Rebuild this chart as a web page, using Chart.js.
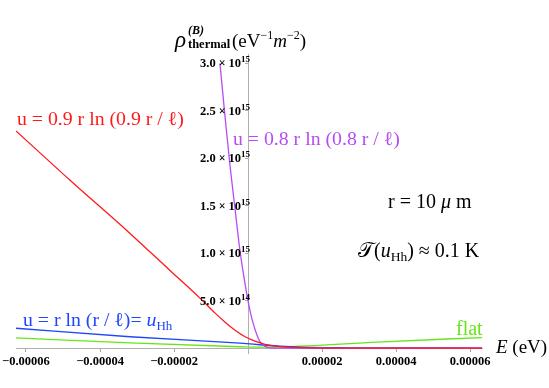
<!DOCTYPE html>
<html><head><meta charset="utf-8">
<script src="https://cdn.jsdelivr.net/npm/chart.js@4/dist/chart.umd.min.js"></script>
<style>html,body{margin:0;padding:0;background:#fff;}#wrap{width:549px;height:388px;position:relative;}</style>
</head><body><div id="wrap"><canvas id="c" width="549" height="388"></canvas></div>
<script>
// ---- tick labels ----
const xTickValues = [-0.00006, -0.00004, -0.00002, 0.00002, 0.00004, 0.00006];
const xTickLabels = ['\u22120.00006', '\u22120.00004', '\u22120.00002', '0.00002', '0.00004', '0.00006'];
const yTickValues = [5e14, 1e15, 1.5e15, 2e15, 2.5e15, 3e15];
const yTickMantissas = ['5.0', '1.0', '1.5', '2.0', '2.5', '3.0'];
const yTickExponents = ['14', '15', '15', '15', '15', '15'];

// ---- series: u = 0.9 r ln(0.9 r / l) (red) ----
const redE   = [-6.27e-5, -4.81e-5, -3.19e-5, -2.11e-5, -1.30e-5, -8.9e-6, -6.2e-6, -3.5e-6, -8e-7, 1.9e-6, 4.6e-6, 8.6e-6, 1.41e-5, 2.49e-5, 6.32e-5];
const redRho = [2.29e15, 1.77e15, 1.21e15, 8.2e14, 5.28e14, 3.7e14, 2.75e14, 1.9e14, 1.21e14, 7.4e13, 4.2e13, 1.8e13, 7e12, 2e12, 1e12];
// ---- series: u = 0.8 r ln(0.8 r / l) (purple) ----
const purpleE   = [-7.6e-6, -6.2e-6, -4.9e-6, -3.5e-6, -2.2e-6, -1.4e-6, -0.3e-6, 0.5e-6, 1.4e-6, 2.4e-6, 3.2e-6, 4.6e-6, 5.9e-6, 1.1e-5, 3.0e-5, 6.32e-5];
const purpleRho = [3.0e15, 2.43e15, 1.93e15, 1.46e15, 1.03e15, 8.2e14, 5.6e14, 4.0e14, 2.6e14, 1.4e14, 7e13, 2e13, 5e12, 1e12, 0, 0];
// ---- series: u = r ln(r / l) = u_Hh (blue) ----
const blueE   = [-6.27e-5, -3.19e-5, -2.2e-6, 3.2e-6, 8.6e-6, 1.4e-5, 2.7e-5, 6.32e-5];
const blueRho = [2.11e14, 1.21e14, 5.3e13, 3.7e13, 2.1e13, 1.06e13, 5e12, 2e12];
// ---- series: flat (green) ----
const greenE   = [-6.27e-5, -3.19e-5, -2.2e-6, 3.8e-6, 1.4e-5, 3.5e-5, 6.32e-5];
const greenRho = [1.09e14, 5.6e13, 1.6e13, 1.1e13, 2.1e13, 6.5e13, 1.13e14];

const pts = (xs, ys) => xs.map((x, i) => ({x: x, y: ys[i]}));

const RED = '#ff1a1a', PURPLE = '#b84cf2', BLUE = '#1f45ff', GREEN = '#66e619';

function ds(label, xs, ys, color) {
  return {label: label, data: pts(xs, ys), borderColor: color, backgroundColor: color,
    showLine: true, pointRadius: 0, borderWidth: 1.3, cubicInterpolationMode: 'monotone', fill: false};
}

const zeroPad = s => { s.paddingLeft = 0; s.paddingRight = 0; s.paddingTop = 0; s.paddingBottom = 0; };
const SERIF = '"Liberation Serif", "DejaVu Serif", serif';

function run(ctx, x, y, parts, color) {
  ctx.fillStyle = color;
  for (const p of parts) {
    ctx.font = p.f + ' ' + SERIF;
    ctx.fillText(p.t, x, y + (p.dy || 0));
    x += ctx.measureText(p.t).width + (p.dx || 0);
  }
  return x;
}

const yLabelPlugin = {
  id: 'yLabels',
  afterDraw(chart) {
    const ctx = chart.ctx, ys = chart.scales.y, xs = chart.scales.x;
    const axisX = xs.getPixelForValue(0);
    ctx.save();
    ctx.textBaseline = 'alphabetic';
    ctx.textAlign = 'left';
    yTickValues.forEach((v, i) => {
      const py = ys.getPixelForValue(v);
      const parts = [
        {t: yTickMantissas[i], f: 'bold 12.5px'},
        {t: ' \u00d7 ', f: 'bold 12px'},
        {t: '10', f: 'bold 12.5px'},
        {t: yTickExponents[i], f: 'bold 9px', dy: -5}
      ];
      let w = 0;
      for (const p of parts) { ctx.font = p.f + ' ' + SERIF; w += ctx.measureText(p.t).width; }
      run(ctx, axisX + 2 - w, py + 4, parts, '#000');
    });
    ctx.restore();
  }
};

const textPlugin = {
  id: 'texts',
  afterDraw(chart) {
    const ctx = chart.ctx;
    ctx.save();
    ctx.textBaseline = 'alphabetic';
    ctx.textAlign = 'left';
    // y axis title
    run(ctx, 175, 47, [{t: '\u03c1', f: 'italic 23px'}], '#000');
    run(ctx, 188, 34, [{t: '(B)', f: 'bold italic 12px'}], '#000');
    run(ctx, 188, 48, [{t: 'thermal', f: 'bold 12.5px'}], '#000');
    run(ctx, 232, 47, [{t: '(eV', f: '19px'}, {t: '\u22121', f: '12px', dy: -8}, {t: 'm', f: 'italic 19px'}, {t: '\u22122', f: '12px', dy: -8}, {t: ')', f: '19px'}], '#000');
    // series labels
    run(ctx, 17, 125, [{t: 'u = 0.9 r ln (0.9 r / \u2113)', f: '19.8px'}], RED);
    run(ctx, 233, 145, [{t: 'u = 0.8 r ln (0.8 r / \u2113)', f: '19.8px'}], PURPLE);
    run(ctx, 23, 326, [{t: 'u = r ln (r / \u2113)= ', f: '19.8px'}, {t: 'u', f: 'italic 19.8px'}, {t: 'Hh', f: '13px', dy: 4}], BLUE);
    run(ctx, 456, 335, [{t: 'flat', f: '20px'}], GREEN);
    // axis label
    run(ctx, 496, 353, [{t: 'E', f: 'italic 19px'}, {t: ' (eV)', f: '19px'}], '#000');
    // annotations
    run(ctx, 388, 208, [{t: 'r = 10 ', f: '20px'}, {t: '\u03bc', f: 'italic 20px'}, {t: ' m', f: '20px'}], '#000');
    run(ctx, 358, 257, [{t: '\ud835\udcaf', f: '21px'}, {t: '(', f: '20px'}, {t: 'u', f: 'italic 20px'}, {t: 'Hh', f: '13.5px', dy: 4}, {t: ') \u2248 0.1 K', f: '20px'}], '#000');
    ctx.restore();
  }
};

new Chart(document.getElementById('c'), {
  type: 'scatter',
  data: {datasets: [
    ds('u = 0.9 r ln (0.9 r / l)', redE, redRho, RED),
    ds('u = 0.8 r ln (0.8 r / l)', purpleE, purpleRho, PURPLE),
    ds('u = r ln (r / l) = u_Hh', blueE, blueRho, BLUE),
    ds('flat', greenE, greenRho, GREEN)
  ]},
  options: {
    responsive: false, animation: false, devicePixelRatio: 1,
    layout: {padding: {left: 16, right: 67, top: 54, bottom: 35}},
    plugins: {legend: {display: false}, tooltip: {enabled: false}, title: {display: false}},
    scales: {
      x: {
        type: 'linear', min: -6.27e-5, max: 6.32e-5, position: {y: 0},
        grid: {drawOnChartArea: false, drawTicks: true, tickLength: 3, color: '#aaa'},
        border: {color: '#b0b0b0', width: 1},
        afterBuildTicks: s => { s.ticks = xTickValues.map(v => ({value: v})); },
        afterFit: zeroPad,
        ticks: {autoSkip: false, maxRotation: 0, minRotation: 0, padding: 3, color: '#000',
          font: {family: '"Liberation Serif", serif', weight: 'bold', size: 12.5},
          callback: (v, i) => xTickLabels[i]}
      },
      y: {
        type: 'linear', min: -5e13, max: 3.1e15, position: {x: 0},
        grid: {drawOnChartArea: false, drawTicks: true, tickLength: 3, color: '#aaa'},
        border: {color: '#b0b0b0', width: 1},
        afterBuildTicks: s => { s.ticks = yTickValues.map(v => ({value: v})); },
        afterFit: zeroPad,
        ticks: {display: false}
      }
    }
  },
  plugins: [yLabelPlugin, textPlugin]
});
</script></body></html>
